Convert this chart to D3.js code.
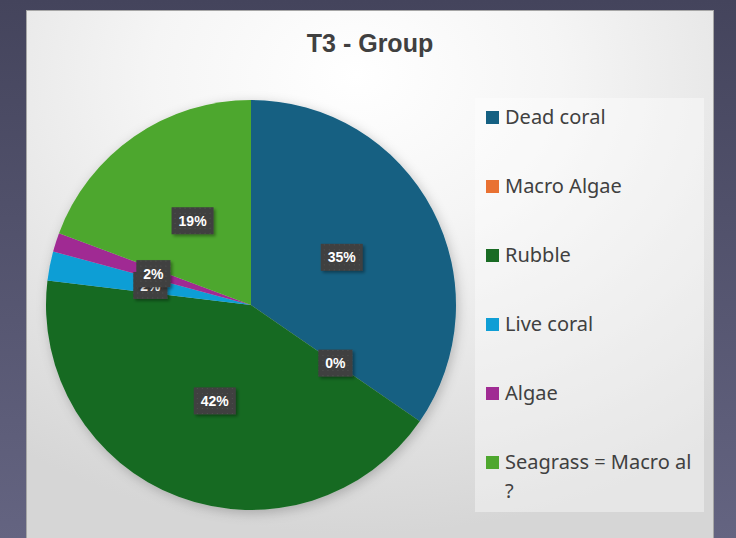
<!DOCTYPE html>
<html>
<head>
<meta charset="utf-8">
<script src="https://cdn.jsdelivr.net/npm/d3@7"></script>
<style>
  html, body { margin: 0; padding: 0; background: #4a4a64; }
  svg { display: block; }
</style>
</head>
<body>
<div class="content"></div>
<script>
// Chart data (percent of total)
var categories = ["Dead coral", "Macro Algae", "Rubble", "Live coral", "Algae", "Seagrass = Macro al\n?"];
var values = [34.6, 0, 42.3, 2.3, 1.5, 19.3];
var colors = ["#156082", "#E97132", "#196B24", "#0F9ED5", "#A02B93", "#4EA72E"];
var title = "T3 - Group";

var width = 736, height = 538;

var svg = d3.select(".content").append("svg")
    .attr("width", width)
    .attr("height", height);

var defs = svg.append("defs");

// outer slide background
var bg = defs.append("linearGradient").attr("id", "bgGrad")
    .attr("x1", 0).attr("y1", 0).attr("x2", 0).attr("y2", 1);
bg.append("stop").attr("offset", "0%").attr("stop-color", "#44445c");
bg.append("stop").attr("offset", "100%").attr("stop-color", "#646481");

// chart panel background
var pg = defs.append("radialGradient").attr("id", "panelGrad")
    .attr("cx", "48%").attr("cy", "12%").attr("r", "85%");
pg.append("stop").attr("offset", "0%").attr("stop-color", "#ffffff");
pg.append("stop").attr("offset", "35%").attr("stop-color", "#f5f5f5");
pg.append("stop").attr("offset", "100%").attr("stop-color", "#d6d6d6");

// soft shadows
var sh = defs.append("filter").attr("id", "pieShadow")
    .attr("x", "-20%").attr("y", "-20%").attr("width", "140%").attr("height", "140%");
sh.append("feDropShadow").attr("dx", 2).attr("dy", 3).attr("stdDeviation", 6)
    .attr("flood-color", "#000").attr("flood-opacity", 0.22);

var lsh = defs.append("filter").attr("id", "labelShadow")
    .attr("x", "-30%").attr("y", "-30%").attr("width", "160%").attr("height", "160%");
lsh.append("feDropShadow").attr("dx", 2).attr("dy", 2).attr("stdDeviation", 1.5)
    .attr("flood-color", "#000").attr("flood-opacity", 0.35);

// dotted texture of the data label boxes
var pat = defs.append("pattern").attr("id", "dots")
    .attr("width", 5).attr("height", 5).attr("patternUnits", "userSpaceOnUse");
pat.append("rect").attr("width", 5).attr("height", 5).attr("fill", "#3f3f3f");
pat.append("rect").attr("x", 2).attr("y", 2).attr("width", 1).attr("height", 1).attr("fill", "#555555");

svg.append("rect")
    .attr("width", width).attr("height", height)
    .attr("fill", "url(#bgGrad)");

// panel
svg.append("rect")
    .attr("x", 26.5).attr("y", 10.5)
    .attr("width", 687).attr("height", 540)
    .attr("fill", "url(#panelGrad)")
    .attr("stroke", "#a6a6a6")
    .attr("stroke-width", 1);

// title
svg.append("text")
    .attr("x", 370).attr("y", 52)
    .attr("text-anchor", "middle")
    .style("font-family", "'Liberation Sans', Arial, sans-serif")
    .style("font-weight", "bold")
    .style("font-size", "25px")
    .style("fill", "#404040")
    .text(title);

// pie
var cx = 251, cy = 305, radius = 205;
var total = d3.sum(values);
var data = categories.map(function(c, i) { return {name: c, value: values[i], color: colors[i]}; });

var pie = d3.pie()
    .sort(null)
    .value(function(d) { return d.value; });
var arcs = pie(data);

var arc = d3.arc().innerRadius(0).outerRadius(radius);
var labelArc = d3.arc().innerRadius(radius * 0.5).outerRadius(radius * 0.5);

var g = svg.append("g")
    .attr("transform", "translate(" + cx + "," + cy + ")");

g.append("g")
  .attr("filter", "url(#pieShadow)")
  .selectAll("path")
  .data(arcs.filter(function(d) { return d.data.value > 0; }))
  .enter()
  .append("path")
    .attr("d", arc)
    .attr("fill", function(d) { return d.data.color; });

// data labels (Live coral label sits partly under the Algae one, as in the original)
var labels = g.selectAll(".dlabel")
  .data(arcs)
  .enter()
  .append("g")
    .attr("class", "dlabel")
    .attr("transform", function(d) {
      var c = labelArc.centroid(d);
      return "translate(" + c[0] + "," + c[1] + ")";
    });

labels.each(function(d) {
  var sel = d3.select(this);
  var txt = Math.round(d.data.value / total * 100) + "%";
  var t = sel.append("text")
      .attr("text-anchor", "middle")
      .attr("dy", "0.36em")
      .style("font-family", "'Liberation Sans', Arial, sans-serif")
      .style("font-weight", "bold")
      .style("font-size", "14px")
      .style("fill", "#ffffff")
      .text(txt);
  var w = t.node().getComputedTextLength() + 14;
  sel.insert("rect", "text")
      .attr("x", -w / 2).attr("y", -13.5)
      .attr("width", w).attr("height", 27)
      .attr("fill", "url(#dots)")
      .attr("filter", "url(#labelShadow)");
});

// legend
var legendBox = {x: 475, y: 98, w: 229, h: 414};
svg.append("rect")
    .attr("x", legendBox.x).attr("y", legendBox.y)
    .attr("width", legendBox.w).attr("height", legendBox.h)
    .attr("fill", "#ffffff")
    .attr("fill-opacity", 0.4);

var legend = svg.selectAll(".legend")
  .data(data)
  .enter()
  .append("g")
    .attr("class", "legend")
    .attr("transform", function(d, i) { return "translate(486," + (124 + i * 69) + ")"; });

legend.append("rect")
    .attr("x", 0).attr("y", -13)
    .attr("width", 13).attr("height", 13)
    .attr("fill", function(d) { return d.color; });

legend.append("text")
    .attr("x", 19)
    .style("font-family", "'Noto Sans', 'Open Sans', sans-serif")
    .style("font-size", "20px")
    .style("fill", "#404040")
    .selectAll("tspan")
    .data(function(d) { return d.name.split("\n"); })
    .enter()
    .append("tspan")
      .attr("x", 19)
      .attr("dy", function(d, i) { return i === 0 ? 0 : 29; })
      .text(function(d) { return d; });
</script>
</body>
</html>
